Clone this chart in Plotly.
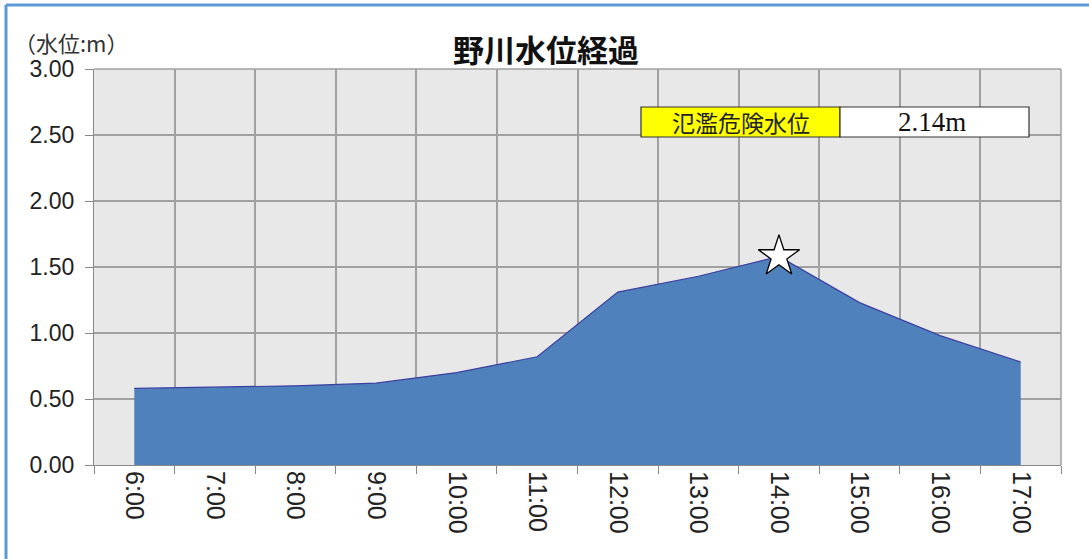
import plotly.graph_objects as go

# ---- data ----
times = ["6:00", "7:00", "8:00", "9:00", "10:00", "11:00",
         "12:00", "13:00", "14:00", "15:00", "16:00", "17:00"]
levels = [0.58, 0.59, 0.60, 0.62, 0.70, 0.82,
          1.31, 1.43, 1.58, 1.23, 0.98, 0.78]
peak_time = "14:00"
peak_level = 1.58
title_text = "野川水位経過"
yaxis_label = "（水位:m）"
danger_label = "氾濫危険水位"
danger_value = "2.14m"
y_ticks = [0, 0.5, 1.0, 1.5, 2.0, 2.5, 3.0]

# ---- layout geometry (pixels) ----
W, H = 1089, 559
L, R, T, B = 94, 1061, 69, 465


def px(x):
    return (x - L) / (R - L)


def py(y):
    return (B - y) / (B - T)


fig = go.Figure()

fig.add_trace(go.Scatter(
    x=times, y=levels, mode="lines",
    fill="tozeroy", fillcolor="#4F81BD",
    line=dict(color="#3B3FA0", width=1.2),
    hoverinfo="x+y", showlegend=False,
))

fig.add_trace(go.Scatter(
    x=[peak_time], y=[peak_level], mode="markers",
    marker=dict(symbol="star", size=31, color="white",
                line=dict(color="black", width=1.3)),
    showlegend=False, hoverinfo="skip",
))

yfont = dict(family="Liberation Sans, Arial, sans-serif", size=23, color="#222222")
xfont = dict(family="Liberation Sans, Arial, sans-serif", size=25, color="#222222")

fig.update_layout(
    width=W, height=H,
    margin=dict(l=L, r=W - R, t=T, b=H - B, autoexpand=False),
    paper_bgcolor="white",
    plot_bgcolor="#E8E8E8",
    xaxis=dict(
        type="category", categoryorder="array", categoryarray=times,
        range=[-0.5, len(times) - 0.5],
        tickson="boundaries", showgrid=True, gridcolor="#A0A0A0", gridwidth=1.5,
        ticks="outside", ticklen=8, tickcolor="#888888", tickwidth=1.2,
        tickangle=90, tickfont=xfont,
        showline=True, linecolor="#888888", linewidth=1.2,
        mirror=False, zeroline=False, fixedrange=True,
    ),
    yaxis=dict(
        range=[0, 3.0], tickvals=y_ticks, tickformat=".2f",
        showgrid=True, gridcolor="#A0A0A0", gridwidth=1.5,
        ticks="outside", ticklen=8, tickcolor="#888888", tickwidth=1.2,
        tickfont=yfont, ticklabelstandoff=6,
        showline=True, linecolor="#888888", linewidth=1.2,
        zeroline=False, fixedrange=True,
    ),
    shapes=[
        dict(type="line", xref="paper", yref="paper", x0=1, x1=1, y0=0, y1=1,
             line=dict(color="#A0A0A0", width=1.5)),
        dict(type="line", xref="paper", yref="paper", x0=0, x1=1, y0=1, y1=1,
             line=dict(color="#A0A0A0", width=1.5)),
        # danger level box
        dict(type="rect", xref="paper", yref="paper",
             x0=px(641), x1=px(840), y0=py(137), y1=py(107),
             fillcolor="#FFFF00", line=dict(color="#333333", width=1.2)),
        dict(type="rect", xref="paper", yref="paper",
             x0=px(840), x1=px(1029), y0=py(137), y1=py(107),
             fillcolor="white", line=dict(color="#333333", width=1.2)),
        # outer blue frame
        dict(type="line", xref="paper", yref="paper",
             x0=px(6), x1=px(W + 5), y0=py(5), y1=py(5),
             line=dict(color="#5B9BD5", width=3)),
        dict(type="line", xref="paper", yref="paper",
             x0=px(6), x1=px(6), y0=py(5), y1=py(H + 5),
             line=dict(color="#5B9BD5", width=3)),
    ],
    annotations=[
        dict(text=f"<b>{title_text}</b>", xref="paper", yref="paper",
             x=px(546), y=py(48), xanchor="center", yanchor="middle",
             showarrow=False,
             font=dict(family="Noto Sans CJK JP", size=31, color="#111111")),
        dict(text=yaxis_label, xref="paper", yref="paper",
             x=px(12), y=py(42), xanchor="left", yanchor="middle",
             showarrow=False,
             font=dict(family="Noto Sans CJK JP", size=22, color="#333333")),
        dict(text=danger_label, xref="paper", yref="paper",
             x=px(741), y=py(122), xanchor="center", yanchor="middle",
             showarrow=False,
             font=dict(family="Noto Sans CJK JP", size=23, color="#222222")),
        dict(text=danger_value, xref="paper", yref="paper",
             x=px(932), y=py(122), xanchor="center", yanchor="middle",
             showarrow=False,
             font=dict(family="Liberation Serif, DejaVu Serif, serif", size=27, color="#111111")),
    ],
)

fig.write_html("out.html",
               config={"displayModeBar": False},
               post_script="document.body.style.margin='0';document.body.style.overflow='hidden';")
